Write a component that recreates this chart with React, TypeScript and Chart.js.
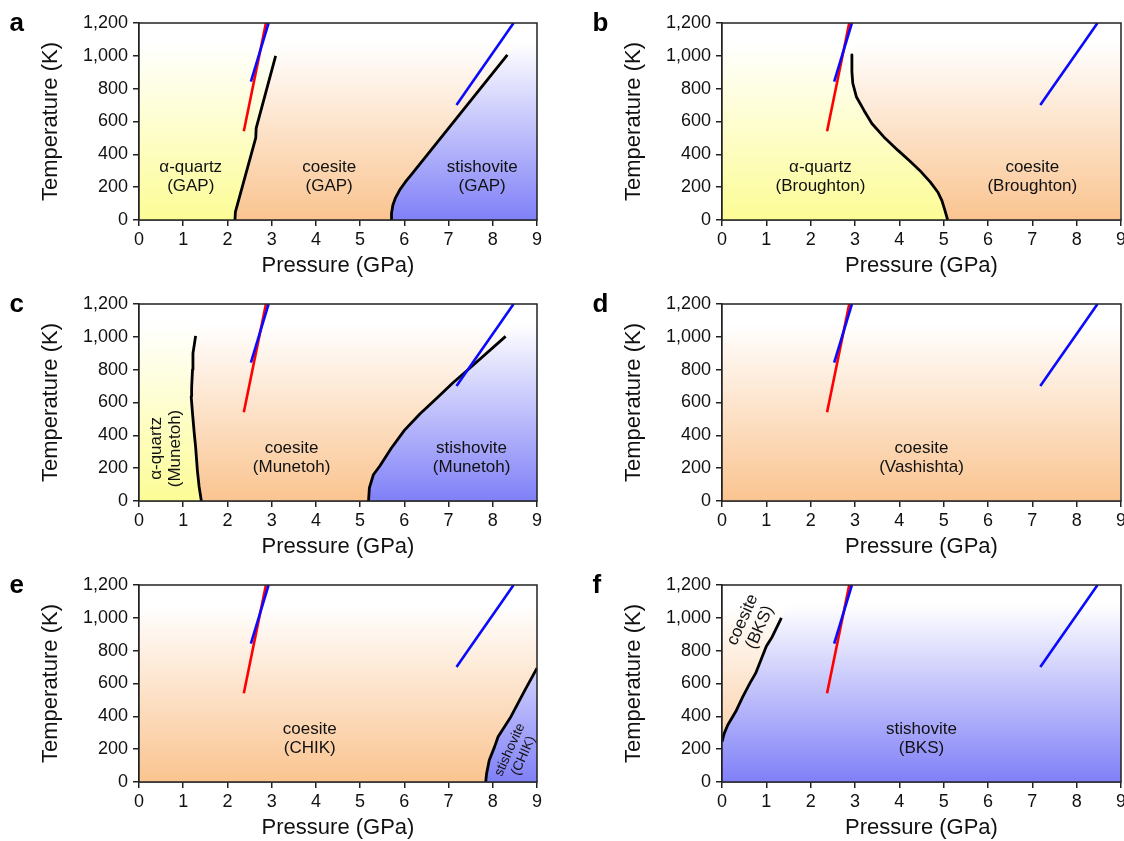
import React, { useEffect, useRef } from "react";
import { Chart, registerables } from "chart.js";

Chart.register(...registerables);

const FONT = '"Liberation Sans", Arial, Helvetica, sans-serif';

// axes
const X_TICKS = [0, 1, 2, 3, 4, 5, 6, 7, 8, 9];
const Y_TICKS = [0, 200, 400, 600, 800, 1000, 1200];
const P_LIM = [0, 9];
const T_LIM = [0, 1200];

// reference boundaries (same in every panel)
const RED_P = [2.37, 2.87];
const RED_T = [540, 1200];
const BLUE1_P = [2.53, 2.93];
const BLUE1_T = [843, 1200];
const BLUE2_P = [7.18, 7.45, 7.6, 7.9, 8.2, 8.47];
const BLUE2_T = [700, 805, 864, 979, 1095, 1200];

// panel a (GAP)
const A_QC_P = [2.17, 2.18, 2.64, 2.65, 3.09];
const A_QC_T = [0, 50, 500, 560, 1000];
const A_QZ_TAIL_P = [3.29, 0];
const A_QZ_TAIL_T = [1200, 1200];
const A_CS_P = [5.7, 5.71, 5.74, 5.8, 5.9, 6.02, 6.2, 8.33];
const A_CS_T = [0, 40, 90, 135, 185, 230, 290, 1006];
const A_ST_TAIL_P = [8.91, 9, 9];
const A_ST_TAIL_T = [1200, 1200, 0];

// panel b (Broughton)
const B_QC_P = [2.93, 2.93, 2.95, 3.03, 3.2, 3.38, 3.65, 3.97, 4.26, 4.46, 4.7, 4.87, 4.96, 5.03, 5.09];
const B_QC_T = [1006, 904, 833, 751, 669, 588, 506, 424, 353, 302, 231, 169, 118, 57, 0];
const B_QZ_HEAD_P = [0, 2.93];
const B_QZ_HEAD_T = [1200, 1200];

// panel c (Munetoh)
const C_QC_P = [1.41, 1.36, 1.32, 1.28, 1.25, 1.21, 1.18, 1.19, 1.21, 1.22, 1.25, 1.28];
const C_QC_T = [0, 86, 187, 330, 411, 534, 636, 690, 800, 900, 951, 1006];
const C_QZ_TAIL_P = [1.3, 0];
const C_QZ_TAIL_T = [1200, 1200];
const C_CS_P = [5.19, 5.21, 5.3, 5.45, 5.7, 6.0, 6.35, 6.75, 7.1, 7.4, 8.29];
const C_CS_T = [0, 80, 160, 215, 320, 430, 530, 630, 720, 790, 1003];
const C_ST_TAIL_P = [9, 9];
const C_ST_TAIL_T = [1173, 0];

// panel e (CHIK)
const E_CS_P = [7.84, 7.86, 7.92, 8.04, 8.12, 8.41, 8.73, 9.0];
const E_CS_T = [0, 51, 133, 214, 276, 398, 561, 694];
const E_ST_TAIL_P = [9];
const E_ST_TAIL_T = [0];

// panel f (BKS)
const F_CS_P = [0, 0.05, 0.13, 0.31, 0.47, 0.63, 0.76, 0.88, 1.0, 1.12, 1.34];
const F_CS_T = [245, 296, 347, 429, 520, 602, 663, 745, 827, 878, 1000];
const F_CO_TAIL_P = [1.7, 0];
const F_CO_TAIL_T = [1200, 1200];

const ORIGIN_P = [0];
const ORIGIN_T = [0];
const BOX_P = [P_LIM[0], P_LIM[1], P_LIM[1], P_LIM[0]];
const BOX_T = [T_LIM[0], T_LIM[0], T_LIM[1], T_LIM[1]];

const PHASE_RGB: Record<string, number[]> = {
  quartz: [252, 252, 150],
  coesite: [250, 196, 144],
  stishovite: [128, 128, 248],
};

type Series = [number[], number[]];
const pts = (parts: Series[]) =>
  parts.flatMap(([P, T]) => P.map((p, i) => ({ x: p, y: T[i] })));

interface Label {
  text: string[];
  p: number;
  t: number;
  rot?: number;
  size?: number;
}
interface PanelCfg {
  letter: string;
  col: number;
  row: number;
  bg: string;
  regions: { phase: string; parts: Series[] }[];
  curves: Series[];
  labels: Label[];
}

const PANELS: PanelCfg[] = [
  {
    letter: "a",
    col: 0,
    row: 0,
    bg: "coesite",
    regions: [
      { phase: "quartz", parts: [[ORIGIN_P, ORIGIN_T], [A_QC_P, A_QC_T], [A_QZ_TAIL_P, A_QZ_TAIL_T]] },
      { phase: "stishovite", parts: [[A_CS_P, A_CS_T], [A_ST_TAIL_P, A_ST_TAIL_T]] },
    ],
    curves: [[A_QC_P, A_QC_T], [A_CS_P, A_CS_T]],
    labels: [
      { text: ["α-quartz", "(GAP)"], p: 1.17, t: 262 },
      { text: ["coesite", "(GAP)"], p: 4.3, t: 262 },
      { text: ["stishovite", "(GAP)"], p: 7.76, t: 262 },
    ],
  },
  {
    letter: "b",
    col: 1,
    row: 0,
    bg: "coesite",
    regions: [
      { phase: "quartz", parts: [[B_QZ_HEAD_P, B_QZ_HEAD_T], [B_QC_P, B_QC_T], [ORIGIN_P, ORIGIN_T]] },
    ],
    curves: [[B_QC_P, B_QC_T]],
    labels: [
      { text: ["α-quartz", "(Broughton)"], p: 2.22, t: 262 },
      { text: ["coesite", "(Broughton)"], p: 7.0, t: 262 },
    ],
  },
  {
    letter: "c",
    col: 0,
    row: 1,
    bg: "coesite",
    regions: [
      { phase: "quartz", parts: [[ORIGIN_P, ORIGIN_T], [C_QC_P, C_QC_T], [C_QZ_TAIL_P, C_QZ_TAIL_T]] },
      { phase: "stishovite", parts: [[C_CS_P, C_CS_T], [C_ST_TAIL_P, C_ST_TAIL_T]] },
    ],
    curves: [[C_QC_P, C_QC_T], [C_CS_P, C_CS_T]],
    labels: [
      { text: ["α-quartz", "(Munetoh)"], p: 0.61, t: 320, rot: -90 },
      { text: ["coesite", "(Munetoh)"], p: 3.45, t: 262 },
      { text: ["stishovite", "(Munetoh)"], p: 7.52, t: 262 },
    ],
  },
  {
    letter: "d",
    col: 1,
    row: 1,
    bg: "coesite",
    regions: [],
    curves: [],
    labels: [{ text: ["coesite", "(Vashishta)"], p: 4.5, t: 262 }],
  },
  {
    letter: "e",
    col: 0,
    row: 2,
    bg: "coesite",
    regions: [{ phase: "stishovite", parts: [[E_CS_P, E_CS_T], [E_ST_TAIL_P, E_ST_TAIL_T]] }],
    curves: [[E_CS_P, E_CS_T]],
    labels: [
      { text: ["coesite", "(CHIK)"], p: 3.86, t: 262 },
      { text: ["stishovite", "(CHIK)"], p: 8.54, t: 178, rot: -66, size: 13.5 },
    ],
  },
  {
    letter: "f",
    col: 1,
    row: 2,
    bg: "stishovite",
    regions: [{ phase: "coesite", parts: [[F_CS_P, F_CS_T], [F_CO_TAIL_P, F_CO_TAIL_T]] }],
    curves: [[F_CS_P, F_CS_T]],
    labels: [
      { text: ["stishovite", "(BKS)"], p: 4.5, t: 262 },
      { text: ["coesite", "(BKS)"], p: 0.66, t: 965, rot: -66, size: 17 },
    ],
  },
];

function gradientFor(phase: string) {
  const [r, g, b] = PHASE_RGB[phase];
  return (c: any) => {
    const chart = c.chart;
    const area = chart.chartArea;
    if (!area) return `rgb(${r},${g},${b})`;
    const grad = chart.ctx.createLinearGradient(0, area.top, 0, area.bottom);
    grad.addColorStop(0, "rgb(255,255,255)");
    grad.addColorStop(0.1, "rgb(255,255,255)");
    grad.addColorStop(1, `rgb(${r},${g},${b})`);
    return grad;
  };
}

const decorPlugin = {
  id: "decor",
  afterDatasetsDraw(chart: any, _args: any, opts: any) {
    const { ctx, chartArea: a } = chart;
    const x = chart.scales.x;
    const y = chart.scales.y;
    ctx.save();
    ctx.fillStyle = "#111";
    ctx.textAlign = "center";
    ctx.textBaseline = "middle";
    for (const lab of opts.labels as Label[]) {
      const size = lab.size || 17;
      const lh = size * 1.1;
      ctx.save();
      ctx.translate(x.getPixelForValue(lab.p), y.getPixelForValue(lab.t));
      ctx.rotate(((lab.rot || 0) * Math.PI) / 180);
      ctx.font = `${size}px ${FONT}`;
      const n = lab.text.length;
      lab.text.forEach((s, i) => ctx.fillText(s, 0, (i - (n - 1) / 2) * lh));
      ctx.restore();
    }
    ctx.strokeStyle = "#222";
    ctx.lineWidth = 1.5;
    ctx.strokeRect(a.left, a.top, a.right - a.left, a.bottom - a.top);
    ctx.font = `bold 26px ${FONT}`;
    ctx.textAlign = "left";
    ctx.textBaseline = "alphabetic";
    ctx.fillStyle = "#000";
    ctx.fillText(opts.letter, a.left - 129.5, a.top + 7.5);
    ctx.restore();
  },
};

function Panel({ cfg }: { cfg: PanelCfg }) {
  const ref = useRef<HTMLCanvasElement | null>(null);
  useEffect(() => {
    if (!ref.current) return;
    const datasets: any[] = [];
    const lineDs = (data: any[], color: string, width: number, order: number) => ({
      data,
      showLine: true,
      pointRadius: 0,
      borderColor: color,
      borderWidth: width,
      borderJoinStyle: "round",
      fill: false,
      order,
    });
    datasets.push({
      data: pts([[BOX_P, BOX_T]]),
      showLine: true,
      pointRadius: 0,
      borderWidth: 0,
      fill: "shape",
      backgroundColor: gradientFor(cfg.bg),
      order: 10,
    });
    cfg.regions.forEach((r) =>
      datasets.push({
        data: pts(r.parts),
        showLine: true,
        pointRadius: 0,
        borderWidth: 0,
        fill: "shape",
        backgroundColor: gradientFor(r.phase),
        order: 8,
      })
    );
    cfg.curves.forEach((c) => datasets.push(lineDs(pts([c]), "#000000", 2.8, 4)));
    datasets.push(lineDs(pts([[RED_P, RED_T]]), "#ff0000", 2.6, 2));
    datasets.push(lineDs(pts([[BLUE1_P, BLUE1_T]]), "#0a0aff", 2.6, 1));
    datasets.push(lineDs(pts([[BLUE2_P, BLUE2_T]]), "#0a0aff", 2.6, 1));

    const tickFont = { family: FONT, size: 18 };
    const titleFont = { family: FONT, size: 22 };
    const chart = new Chart(ref.current, {
      type: "scatter",
      data: { datasets },
      plugins: [decorPlugin],
      options: {
        animation: false,
        responsive: false,
        devicePixelRatio: 1,
        events: [],
        layout: {
          padding: { left: cfg.col === 0 ? 30 : 51, right: cfg.col === 0 ? 25 : 3, top: 23, bottom: 0 },
        },
        plugins: {
          legend: { display: false },
          tooltip: { enabled: false },
          decor: { labels: cfg.labels, letter: cfg.letter },
        } as any,
        scales: {
          x: {
            type: "linear",
            min: P_LIM[0],
            max: P_LIM[1],
            afterBuildTicks: (s: any) => {
              s.ticks = X_TICKS.map((v) => ({ value: v }));
            },
            afterFit: (s: any) => {
              s.height = 61;
              s.paddingLeft = 0;
              s.paddingRight = 0;
            },
            ticks: {
              font: tickFont,
              color: "#111",
              padding: 3,
              maxRotation: 0,
              autoSkip: false,
              callback: (v: any) => String(v),
            },
            grid: { drawOnChartArea: false, drawTicks: true, tickLength: 6, color: "#222", lineWidth: 1.5 },
            border: { display: true, color: "#222", width: 1.5 },
            title: {
              display: true,
              text: "Pressure (GPa)",
              font: titleFont,
              color: "#111",
              padding: { top: 0, bottom: 2 },
            },
          },
          y: {
            type: "linear",
            min: T_LIM[0],
            max: T_LIM[1],
            afterBuildTicks: (s: any) => {
              s.ticks = Y_TICKS.map((v) => ({ value: v }));
            },
            afterFit: (s: any) => {
              s.width = 109;
              s.paddingTop = 0;
              s.paddingBottom = 0;
            },
            ticks: {
              font: tickFont,
              color: "#111",
              padding: 5,
              autoSkip: false,
              callback: (v: any) => Number(v).toLocaleString("en-US"),
            },
            grid: { drawOnChartArea: false, drawTicks: true, tickLength: 6, color: "#222", lineWidth: 1.5 },
            border: { display: true, color: "#222", width: 1.5 },
            title: {
              display: true,
              text: "Temperature (K)",
              font: titleFont,
              color: "#111",
              padding: { top: 8, bottom: 0 },
            },
          },
        },
      } as any,
    });
    return () => chart.destroy();
  }, [cfg]);
  return (
    <div style={{ position: "absolute", left: cfg.col * 562, top: cfg.row * 281 }}>
      <canvas ref={ref} width={562} height={281} style={{ display: "block" }} />
    </div>
  );
}

export default function App() {
  return (
    <div
      style={{
        position: "absolute",
        left: 0,
        top: 0,
        width: 1124,
        height: 841,
        overflow: "hidden",
        background: "#fff",
      }}
    >
      {PANELS.map((cfg) => (
        <Panel key={cfg.letter} cfg={cfg} />
      ))}
    </div>
  );
}
